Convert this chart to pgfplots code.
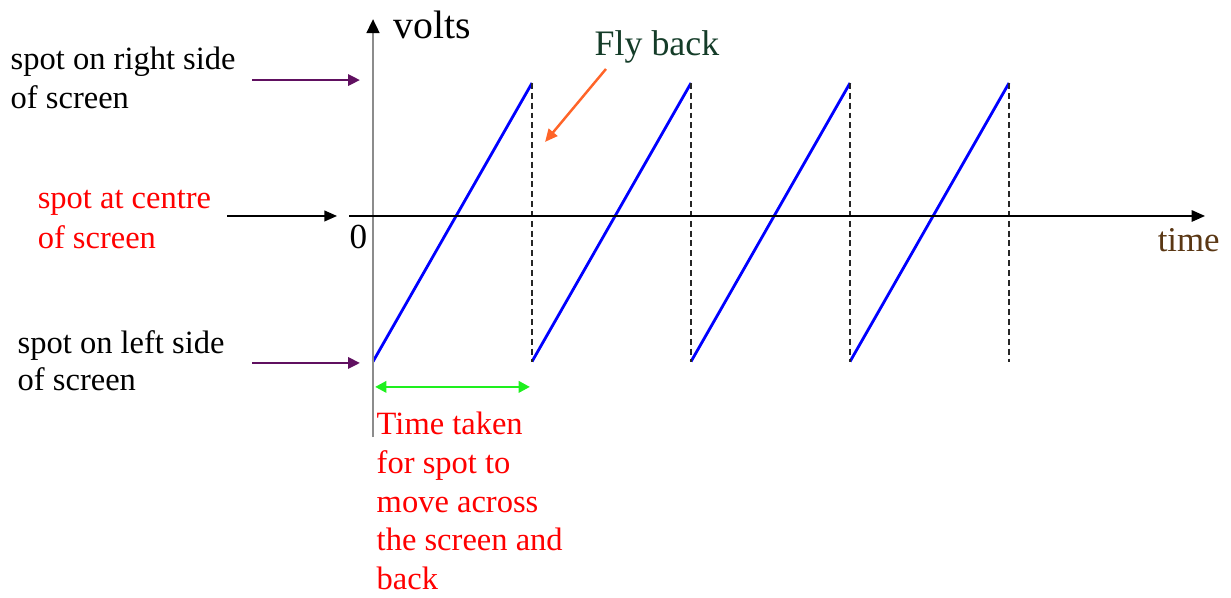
\documentclass[border=0pt]{standalone}
\usepackage{pgfplots}
\pgfplotsset{compat=1.18}
\usetikzlibrary{arrows.meta}
\usepackage{fontspec}
\setmainfont{Liberation Serif}

\definecolor{spotpurple}{RGB}{96,16,96}
\definecolor{flygreen}{RGB}{20,60,40}
\definecolor{timebrown}{RGB}{90,55,20}
\definecolor{flyorange}{RGB}{255,100,40}
\definecolor{spanGreen}{RGB}{30,240,30}
\definecolor{axgray}{RGB}{140,140,140}

\newcommand{\lbl}{\fontsize{9.25}{11}\selectfont}

\begin{document}
\begin{tikzpicture}
\begin{axis}[
    hide axis, scale only axis,
    width=123.1mm, height=59.8mm,
    xmin=-2.346, xmax=5.396, ymin=-2.729, ymax=1.543,
    clip=false, unbounded coords=jump,
]
% one period = 1 time unit; volts scaled so the spot swings -1.04 .. 0.95
\addplot[draw=blue, line width=0.8pt] coordinates {
    (0,-1.04) (1,0.95) (1,nan)
    (1,-1.04) (2,0.95) (2,nan)
    (2,-1.04) (3,0.95) (3,nan)
    (3,-1.04) (4,0.95)
};
% fly-back lines
\addplot[draw=black!85, line width=0.5pt, dash pattern=on 1.7pt off 1.1pt] coordinates {
    (1,0.95) (1,-1.04) (1,nan)
    (2,0.95) (2,-1.04) (2,nan)
    (3,0.95) (3,-1.04) (3,nan)
    (4,0.95) (4,-1.04)
};
% axes
\draw[axgray, line width=0.75pt, -{Triangle[length=4pt,width=3.6pt,color=black]}]
    (axis cs:0,-1.579) -- (axis cs:0,1.407);
\draw[black, line width=0.6pt, -{Triangle[length=3.8pt,width=3.2pt]}]
    (axis cs:-0.151,0) -- (axis cs:5.233,0);
% pointer arrows
\draw[spotpurple, line width=0.7pt, -{Triangle[length=3.4pt,width=3.2pt]}]
    (axis cs:-0.761,0.971) -- (axis cs:-0.082,0.971);
\draw[black, line width=0.6pt, -{Triangle[length=3.6pt,width=3pt]}]
    (axis cs:-0.918,0) -- (axis cs:-0.226,0);
\draw[spotpurple, line width=0.7pt, -{Triangle[length=3.4pt,width=3.2pt]}]
    (axis cs:-0.761,-1.05) -- (axis cs:-0.082,-1.05);
\draw[spanGreen, line width=0.75pt, {Triangle[length=3.2pt,width=3.2pt]}-{Triangle[length=3.2pt,width=3.2pt]}]
    (axis cs:0.013,-1.221) -- (axis cs:0.987,-1.221);
\draw[flyorange, line width=0.7pt, -{Triangle[length=3.6pt,width=3.2pt]}]
    (axis cs:1.465,1.05) -- (axis cs:1.082,0.529);
% texts
\node[anchor=base west, inner sep=0] at (axis cs:0.126,1.271) {\fontsize{11.3}{13}\selectfont volts};
\node[anchor=base west, inner sep=0, flygreen] at (axis cs:1.39,1.143) {\fontsize{10.2}{12}\selectfont Fly back};
\node[anchor=base west, inner sep=0, timebrown] at (axis cs:4.931,-0.257) {\fontsize{9.9}{12}\selectfont time};
\node[anchor=base west, inner sep=0] at (axis cs:-0.151,-0.229) {\fontsize{10}{12}\selectfont 0};

\node[anchor=base west, inner sep=0] at (axis cs:-2.283,1.043) {\lbl spot on right side};
\node[anchor=base west, inner sep=0] at (axis cs:-2.283,0.771) {\lbl of screen};
\node[anchor=base west, inner sep=0, red] at (axis cs:-2.113,0.05) {\lbl spot at centre};
\node[anchor=base west, inner sep=0, red] at (axis cs:-2.113,-0.229) {\lbl of screen};
\node[anchor=base west, inner sep=0] at (axis cs:-2.239,-0.979) {\lbl spot on left side};
\node[anchor=base west, inner sep=0] at (axis cs:-2.239,-1.25) {\lbl of screen};

\node[anchor=base west, inner sep=0, red] at (axis cs:0.019,-1.564) {\lbl Time taken};
\node[anchor=base west, inner sep=0, red] at (axis cs:0.019,-1.843) {\lbl for spot to};
\node[anchor=base west, inner sep=0, red] at (axis cs:0.019,-2.121) {\lbl move across};
\node[anchor=base west, inner sep=0, red] at (axis cs:0.019,-2.393) {\lbl the screen and};
\node[anchor=base west, inner sep=0, red] at (axis cs:0.019,-2.671) {\lbl back};
\end{axis}
\pgfresetboundingbox
\path (current axis.south west) rectangle (current axis.north east);
\end{tikzpicture}
\end{document}
